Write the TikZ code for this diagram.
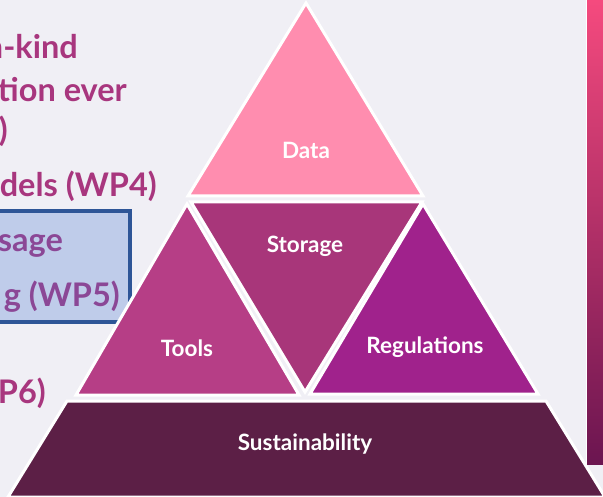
\documentclass[tikz,border=0pt]{standalone}
\usepackage{fontspec}
\setmainfont{Lato}
\definecolor{bgcol}{HTML}{F0EFF5}
\definecolor{wpcol}{HTML}{A8367E}
\definecolor{wpboxcol}{HTML}{8B4796}
\definecolor{boxfill}{HTML}{BFCCEA}
\definecolor{boxline}{HTML}{2E5597}
\definecolor{datacol}{HTML}{FF8DAF}
\definecolor{storecol}{HTML}{A8367A}
\definecolor{toolcol}{HTML}{B63E86}
\definecolor{regcol}{HTML}{A0228C}
\definecolor{sustcol}{HTML}{5C1F46}
\definecolor{bartop}{HTML}{F54A7E}
\definecolor{barbot}{HTML}{6B1550}
\tikzset{
	block/.style={
		draw=white, line width=3pt, line join=miter
	},
	lbl/.style={
		text=white, inner sep=0pt,
		font={\bfseries\fontsize{22.5}{26}\selectfont}
	},
	wp/.style={
		anchor=base east, inner sep=0pt, text=wpcol,
		font={\bfseries\fontsize{32.5}{38}\selectfont}
	},
}
\def\barX{587}

\begin{document}
\begin{tikzpicture}[x=1pt, y=-1pt]
\fill[bgcol] (0,0) rectangle (603,497);
\useasboundingbox (0,0) rectangle (603,497);
% colour scale on the right
\shade[top color=bartop, bottom color=barbot] (\barX,0) rectangle (603,464);
\draw[white, line width=1pt] (\barX-0.5,0) -- (\barX-0.5,464);
% work package list
\node [wp] (wp1a) at (78,59) {n-kind};
\node [wp] (wp1b) at (127,102) {ction ever};
\node [wp] (wp1c) at (8,142) {)};
\node [wp] (wp4) at (157,197) {dels (WP4)};
\draw [fill=boxfill, draw=boxline, line width=3.5pt] (-5,211) rectangle (130,322);
\node [wp, text=wpboxcol] (wp5a) at (63,252) {sage};
\node [wp, text=wpboxcol] (wp5b) at (120,307) {g (WP5)};
\node [wp] (wp6) at (46,403) {P6)};
% pyramid
\filldraw [block, fill=datacol] (306,3) -- (188,196) -- (423,196) -- cycle;
\filldraw [block, fill=storecol] (191,202) -- (422,202) -- (305,392) -- cycle;
\filldraw [block, fill=toolcol] (187,204) -- (76,395) -- (299,395) -- cycle;
\filldraw [block, fill=regcol] (423,204) -- (310,394) -- (538,394) -- cycle;
\filldraw [block, fill=sustcol] (67,401) -- (546,401) -- (605,497) -- (8,497) -- cycle;
\node [lbl] (data) at (306,150) {Data};
\node [lbl] (storage) at (305,246) {Storage};
\node [lbl] (tools) at (187,348) {Tools};
\node [lbl] (regs) at (425,347) {Regulations};
\node [lbl] (sust) at (305,444) {Sustainability};
\end{tikzpicture}
\end{document}
